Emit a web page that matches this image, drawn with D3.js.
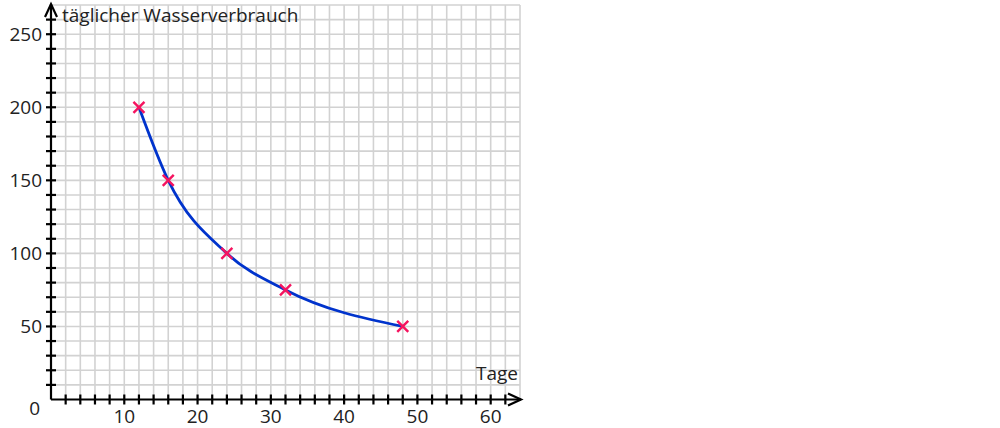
<!DOCTYPE html>
<html>
<head>
<meta charset="utf-8">
<script src="https://cdn.jsdelivr.net/npm/d3@7"></script>
<style>
  body { margin: 0; background: #fff; }
  svg text { font-family: "Open Sans", "Noto Sans", sans-serif; fill: #222; }
</style>
</head>
<body>
<div id="chart"></div>
<script>
// Daten: Tage und täglicher Wasserverbrauch
const days = [12, 16, 24, 32, 48];
const usage = [200, 150, 100, 75, 50];
const xTickLabels = [10, 20, 30, 40, 50, 60];
const yTickLabels = [50, 100, 150, 200, 250];

const width = 1000, height = 428;
const origin = { x: 51, y: 399.5 };
const fs = 19;

const x = d3.scaleLinear().domain([0, 64]).range([origin.x, origin.x + 469]);
const y = d3.scaleLinear().domain([0, 270]).range([origin.y, origin.y - 394.5]);

const svg = d3.select("#chart").append("svg")
    .attr("width", width)
    .attr("height", height);

// Kästchenraster
const grid = svg.append("g").attr("stroke", "#d2d2d2").attr("stroke-width", 1.6);
grid.selectAll("line.v")
    .data(d3.range(2, 65, 2))
    .join("line")
    .attr("x1", d => x(d)).attr("x2", d => x(d))
    .attr("y1", y(0)).attr("y2", y(270));
grid.selectAll("line.h")
    .data(d3.range(10, 271, 10))
    .join("line")
    .attr("y1", d => y(d)).attr("y2", d => y(d))
    .attr("x1", x(0)).attr("x2", x(64));

// Achsen
const axes = svg.append("g").attr("stroke", "#000").attr("stroke-width", 2.2).attr("fill", "none");
axes.append("line").attr("x1", x(0)).attr("x2", x(64) + 1).attr("y1", y(0)).attr("y2", y(0));
axes.append("line").attr("x1", x(0)).attr("x2", x(0)).attr("y1", y(0)).attr("y2", y(270) - 1);
// Pfeilspitzen
axes.append("path")
    .attr("d", `M${x(64) - 12},${y(0) - 6} L${x(64) + 1},${y(0)} L${x(64) - 12},${y(0) + 6}`);
axes.append("path")
    .attr("d", `M${x(0) - 6},${y(270) + 12} L${x(0)},${y(270) - 1} L${x(0) + 6},${y(270) + 12}`);

// Striche
axes.selectAll("line.xt")
    .data(d3.range(2, 63, 2))
    .join("line")
    .attr("x1", d => x(d)).attr("x2", d => x(d))
    .attr("y1", y(0) - 5).attr("y2", y(0) + 5);
axes.selectAll("line.yt")
    .data(d3.range(10, 261, 10))
    .join("line")
    .attr("y1", d => y(d)).attr("y2", d => y(d))
    .attr("x1", x(0) - 5).attr("x2", x(0) + 5);

// Beschriftung
svg.append("g").selectAll("text")
    .data(xTickLabels)
    .join("text")
    .attr("x", d => x(d))
    .attr("y", y(0) + 23)
    .attr("text-anchor", "middle")
    .attr("font-size", fs)
    .text(d => d);
svg.append("g").selectAll("text")
    .data(yTickLabels)
    .join("text")
    .attr("x", x(0) - 9)
    .attr("y", d => y(d) + 7)
    .attr("text-anchor", "end")
    .attr("font-size", fs)
    .text(d => d);
svg.append("text")
    .attr("x", x(0) - 11).attr("y", y(0) + 15)
    .attr("text-anchor", "end").attr("font-size", fs)
    .text("0");

svg.append("text")
    .attr("x", x(0) + 11).attr("y", y(270) + 17)
    .attr("font-size", fs)
    .text("täglicher Wasserverbrauch");
svg.append("text")
    .attr("x", x(64) - 2).attr("y", y(0) - 20)
    .attr("text-anchor", "end")
    .attr("font-size", fs)
    .text("Tage");

// Kurve
const pts = days.map((d, i) => [d, usage[i]]);
svg.append("path")
    .datum(pts)
    .attr("fill", "none")
    .attr("stroke", "#0033cc")
    .attr("stroke-width", 2.8)
    .attr("d", d3.line().x(d => x(d[0])).y(d => y(d[1])).curve(d3.curveMonotoneX));

// Markierungen
const s = 5.5;
svg.append("g").selectAll("path")
    .data(pts)
    .join("path")
    .attr("fill", "none")
    .attr("stroke", "#f5145f")
    .attr("stroke-width", 2.4)
    .attr("d", d => {
        const cx = x(d[0]), cy = y(d[1]);
        return `M${cx - s},${cy - s}L${cx + s},${cy + s}M${cx - s},${cy + s}L${cx + s},${cy - s}`;
    });
</script>
</body>
</html>
